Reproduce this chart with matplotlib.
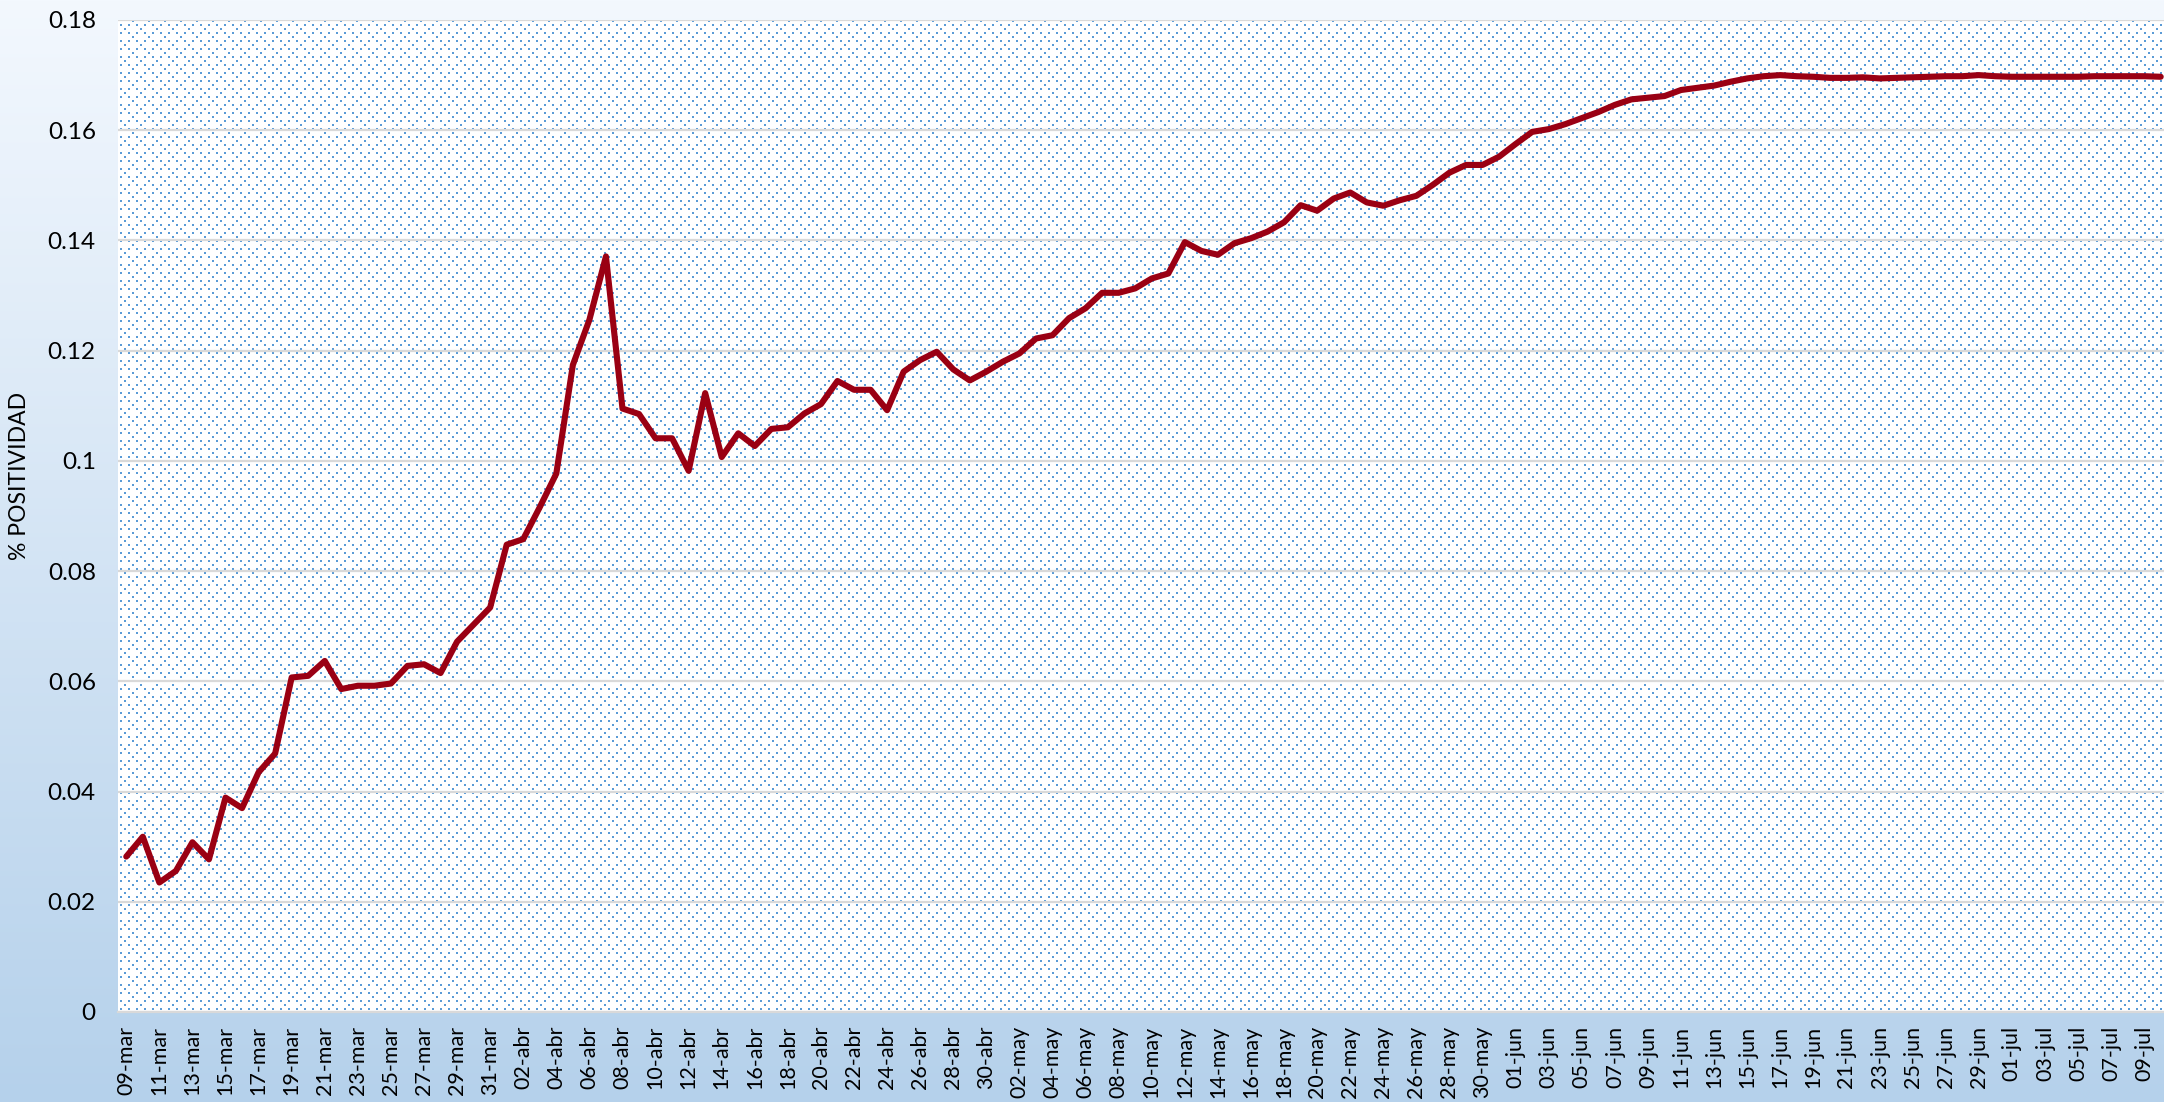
import numpy as np
import pandas as pd
import matplotlib
matplotlib.use("Agg")
import matplotlib.pyplot as plt
from matplotlib.ticker import FuncFormatter

# ---------------- data ----------------
start_date = "2020-03-09"
positividad = [
    0.0282, 0.0318, 0.0235, 0.0256, 0.0308, 0.0277, 0.0389, 0.0370, 0.0435, 0.0469,
    0.0607, 0.0610, 0.0637, 0.0586, 0.0592, 0.0592, 0.0596, 0.0628, 0.0631, 0.0615,
    0.0672, 0.0703, 0.0734, 0.0848, 0.0858, 0.0916, 0.0977, 0.1174, 0.1256, 0.1371,
    0.1095, 0.1085, 0.1041, 0.1041, 0.0982, 0.1123, 0.1007, 0.1050, 0.1027, 0.1058,
    0.1061, 0.1086, 0.1103, 0.1145, 0.1129, 0.1129, 0.1092, 0.1162, 0.1183, 0.1198,
    0.1166, 0.1146, 0.1162, 0.1180, 0.1195, 0.1222, 0.1228, 0.1259, 0.1277, 0.1305,
    0.1305, 0.1313, 0.1331, 0.1340, 0.1397, 0.1381, 0.1374, 0.1395, 0.1404, 0.1416,
    0.1433, 0.1464, 0.1454, 0.1476, 0.1487, 0.1469, 0.1463, 0.1473, 0.1481, 0.1501,
    0.1523, 0.1537, 0.1537, 0.1552, 0.1575, 0.1597, 0.1602, 0.1611, 0.1622, 0.1633,
    0.1646, 0.1656, 0.1659, 0.1662, 0.1673, 0.1677, 0.1681, 0.1688, 0.1694, 0.1698,
    0.1700, 0.1698, 0.1697, 0.1695, 0.1695, 0.1696, 0.1694, 0.1695, 0.1696, 0.1697,
    0.1698, 0.1698, 0.1700, 0.1698, 0.1697, 0.1697, 0.1697, 0.1697, 0.1697, 0.1698,
    0.1698, 0.1698, 0.1698, 0.1697,
]
meses = {3: "mar", 4: "abr", 5: "may", 6: "jun", 7: "jul"}
fechas = pd.date_range(start_date, periods=len(positividad), freq="D")
etiquetas = [f"{d.day:02d}-{meses[d.month]}" for d in fechas]
y_ticks = [0, 0.02, 0.04, 0.06, 0.08, 0.10, 0.12, 0.14, 0.16, 0.18]
y_label = "% POSITIVIDAD"

# ---------------- figure ----------------
W, H, DPI = 2164, 1102, 100
plt.rcParams["font.family"] = ["Lato", "DejaVu Sans"]
fig = plt.figure(figsize=(W / DPI, H / DPI), dpi=DPI)

# plot area in pixels
L, T, B = 118, 20, 1012
R = W

# background image: vertical gradient + dotted plot area
top_c = np.array([0xF3, 0xF8, 0xFE]) / 255.0
bot_c = np.array([0xB5, 0xD1, 0xEB]) / 255.0
t = np.linspace(0, 1, H)[:, None]
grad = top_c[None, :] * (1 - t) + bot_c[None, :] * t
bg = np.repeat(grad[:, None, :], W, axis=1)

area = np.ones((B - T, R - L, 3))
dot_c = np.array([0x5A, 0x9B, 0xD6]) / 255.0
yy, xx = np.mgrid[0:B - T, 0:R - L]
row = yy // 4
in_row = (yy % 4) < 2
odd = (row % 2) == 1
even_off = np.where((row // 2) % 2 == 0, 14, 6)
mask_even = (~odd) & (((xx - even_off) % 16) < 2)
mask_odd = odd & (((xx - 2) % 8) < 2)
mask = in_row & (mask_even | mask_odd)
area[mask] = dot_c
bg[T:B, L:R] = area
fig.figimage(bg, xo=0, yo=0, origin="upper", zorder=-10)

ax = fig.add_axes([L / W, 1 - B / H, (R - L) / W, (B - T) / H])
ax.set_facecolor("none")

x = np.arange(len(positividad))
ax.plot(x, positividad, color="#9A0013", lw=4.4, solid_joinstyle="round",
        solid_capstyle="round", zorder=3)

x_right = (R - 126.3) / 16.54
ax.set_xlim(-0.5, x_right)
ax.set_ylim(0, 0.18)

ax.set_yticks(y_ticks)
ax.yaxis.set_major_formatter(FuncFormatter(lambda v, p: f"{v:g}"))
ax.set_xticks(x[::2])
ax.set_xticklabels(etiquetas[::2], rotation=90)

ax.tick_params(axis="both", length=0, colors="black")
ax.tick_params(axis="x", pad=10, labelsize=15.5)
ax.tick_params(axis="y", pad=16, labelsize=17.5)

ax.yaxis.grid(True, color="#D9D9D9", lw=1.6, zorder=1)
ax.set_axisbelow(True)
for s in ["left", "right", "top"]:
    ax.spines[s].set_visible(False)
ax.spines["bottom"].set_color("#D9D9D9")
ax.spines["bottom"].set_linewidth(1.6)

fig.text(20 / W, 1 - 476 / H, y_label, rotation=90, ha="center", va="center",
         fontsize=16.5, color="black")

fig.savefig("out.png", dpi=DPI)
